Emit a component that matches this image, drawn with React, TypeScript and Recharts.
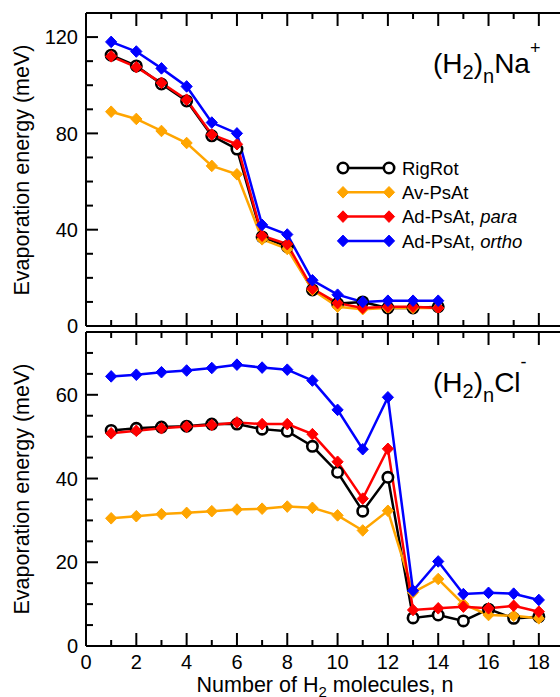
import React from 'react'
import { Legend, Line, LineChart, XAxis, YAxis } from 'recharts'

const FONT = '"Liberation Sans", Arial, Helvetica, sans-serif'

// (H2)n Na+ panel
const nNa = [1, 2, 3, 4, 5, 6, 7, 8, 9, 10, 11, 12, 13, 14]
const rigRotNa = [112.5, 108, 100.5, 93.5, 79, 73.5, 37, 33, 15, 9.3, 10, 7.5, 7.5, 8]
const avNa = [89, 86, 81, 76, 66.5, 63, 36, 32, 15, 8, 7, 7.5, 7.5, 7.5]
const paraNa = [112, 107.5, 101, 94, 79.5, 75.5, 37.5, 34, 15.5, 9.5, 7.5, 8, 8, 7.5]
const orthoNa = [118, 114, 107, 99.5, 84.5, 80, 42, 38, 19, 13, 10, 10.5, 10.5, 10.5]

// (H2)n Cl- panel
const nCl = [1, 2, 3, 4, 5, 6, 7, 8, 9, 10, 11, 12, 13, 14, 15, 16, 17, 18]
const rigRotCl = [51.5, 52, 52.3, 52.5, 53, 53, 51.8, 51.3, 47.7, 41.5, 32.2, 40.3, 6.7, 7.4, 6, 8.8, 6.6, 7]
const avCl = [30.5, 31, 31.5, 31.8, 32.2, 32.6, 32.8, 33.3, 33, 31.2, 27.6, 32.3, 12.8, 16, 10, 7.4, 7.2, 6.6]
const paraCl = [50.8, 51.4, 52, 52.4, 52.8, 53.4, 53, 53, 50.6, 44, 35.2, 47.1, 8.6, 9, 9.4, 9, 9.6, 8.2]
const orthoCl = [64.4, 64.8, 65.4, 65.8, 66.4, 67.2, 66.5, 66, 63.4, 56.4, 47, 59.4, 13.2, 20.2, 12.4, 12.7, 12.5, 11]

// ticks
const xTicks = [1, 2, 3, 4, 5, 6, 7, 8, 9, 10, 11, 12, 13, 14, 15, 16, 17, 18]
const xLabels = [0, 2, 4, 6, 8, 10, 12, 14, 16, 18]
const yTicksNa = [0, 10, 20, 30, 40, 50, 60, 70, 80, 90, 100, 110, 120]
const yMajorNa = [0, 40, 80, 120]
const yTicksCl = [0, 5, 10, 15, 20, 25, 30, 35, 40, 45, 50, 55, 60, 65, 70]
const yMajorCl = [0, 20, 40, 60]

const SERIES = [
    { key: 'rigRot', name: 'RigRot', color: '#000000', marker: 'circle' },
    { key: 'av', name: 'Av-PsAt', color: '#ffa500', marker: 'diamond' },
    { key: 'para', name: 'Ad-PsAt, para', color: '#ff0000', marker: 'diamond' },
    { key: 'ortho', name: 'Ad-PsAt, ortho', color: '#0000ff', marker: 'diamond' },
]

const naData = nNa.map((n, i) => ({
    n,
    rigRot: rigRotNa[i],
    av: avNa[i],
    para: paraNa[i],
    ortho: orthoNa[i],
}))

const clData = nCl.map((n, i) => ({
    n,
    rigRot: rigRotCl[i],
    av: avCl[i],
    para: paraCl[i],
    ortho: orthoCl[i],
}))

function diamondPath(cx: number, cy: number) {
    return `M${cx},${cy - 5.8}L${cx + 5.6},${cy}L${cx},${cy + 5.8}L${cx - 5.6},${cy}Z`
}

function Marker({ cx, cy, marker, color }: any) {
    if (marker === 'circle') {
        return <circle cx={cx} cy={cy} r={5.2} fill="#fff" stroke="#000" strokeWidth={2.6} />
    }
    return <path d={diamondPath(cx, cy)} fill={color} stroke={color} strokeWidth={1} />
}

function XTick({ x, y, payload, side, labels }: any) {
    const v = payload.value
    const len = v % 2 === 0 ? 13 : 6
    const dir = side === 'bottom' ? -1 : 1
    return (
        <g>
            <line x1={x} y1={y} x2={x} y2={y + dir * len} stroke="#000" strokeWidth={2} />
            {labels && labels.includes(v) && (
                <text x={x} y={y + 23} textAnchor="middle" fontSize={20} fontFamily={FONT} fill="#000">
                    {v}
                </text>
            )}
        </g>
    )
}

function YTick({ x, y, payload, side, majors, showLabels }: any) {
    const v = payload.value
    const major = majors.includes(v)
    const len = major ? 12 : 7
    const dir = side === 'left' ? 1 : -1
    return (
        <g>
            <line x1={x} y1={y} x2={x + dir * len} y2={y} stroke="#000" strokeWidth={2} />
            {showLabels && major && (
                <text x={x - 8} y={y} dy="0.36em" textAnchor="end" fontSize={20} fontFamily={FONT} fill="#000">
                    {v}
                </text>
            )}
        </g>
    )
}

function YTitle({ cy }: any) {
    return (
        <text
            x={22}
            y={cy}
            transform={`rotate(-90, 22, ${cy})`}
            textAnchor="middle"
            dominantBaseline="central"
            fontSize={21.5}
            fontFamily={FONT}
            fill="#000"
        >
            Evaporation energy (meV)
        </text>
    )
}

function XTitle() {
    return (
        <text x={325} y={362} textAnchor="middle" fontSize={21.5} fontFamily={FONT} fill="#000">
            Number of H<tspan fontSize={15} dy={5}>2</tspan>
            <tspan dy={-5}> molecules, n</tspan>
        </text>
    )
}

function PanelLabel({ baseline, ion, charge }: any) {
    const up = charge === '+' ? -19 : -24
    return (
        <text x={433} y={baseline} fontSize={28} fontFamily={FONT} fill="#000">
            (H<tspan fontSize={20} dy={6}>2</tspan>
            <tspan dy={-6}>)</tspan>
            <tspan fontSize={20} dy={10}>n</tspan>
            <tspan dy={-10}>{ion}</tspan>
            <tspan fontSize={18} dy={up}>{charge}</tspan>
        </text>
    )
}

function renderLegend(props: any) {
    const payload = [...(props.payload || [])].sort(
        (a: any, b: any) =>
            SERIES.findIndex((s) => s.key === a.dataKey) - SERIES.findIndex((s) => s.key === b.dataKey),
    )
    return (
        <svg width={224} height={100} style={{ display: 'block' }}>
            {payload.map((item: any, i: number) => {
                const s = SERIES.find((d) => d.key === item.dataKey) || SERIES[i]
                const cy = 13 + i * 24.3
                const parts = s.name.split(', ')
                return (
                    <g key={s.key}>
                        <line x1={7} x2={53} y1={cy} y2={cy} stroke={s.color} strokeWidth={2.5} />
                        <Marker cx={7} cy={cy} marker={s.marker} color={s.color} />
                        <Marker cx={53} cy={cy} marker={s.marker} color={s.color} />
                        <text x={66} y={cy} dy="0.36em" fontSize={18.5} fontFamily={FONT} fill="#000">
                            {parts[0]}
                            {parts[1] && (
                                <>
                                    {', '}
                                    <tspan fontStyle="italic">{parts[1]}</tspan>
                                </>
                            )}
                        </text>
                    </g>
                )
            })}
        </svg>
    )
}

function seriesLines() {
    return SERIES.map((s) => (
        <Line
            key={s.key}
            xAxisId="bottom"
            yAxisId="left"
            type="linear"
            dataKey={s.key}
            name={s.name}
            stroke={s.color}
            strokeWidth={2.5}
            dot={(p: any) => <Marker key={`${s.key}-${p.index}`} cx={p.cx} cy={p.cy} marker={s.marker} color={s.color} />}
            activeDot={false}
            isAnimationActive={false}
        />
    ))
}

const axisLine = { stroke: '#000', strokeWidth: 2 }

export default function App() {
    return (
        <div
            style={{
                position: 'absolute',
                left: 0,
                top: 0,
                width: 560,
                height: 697,
                overflow: 'hidden',
                background: '#fff',
                fontFamily: FONT,
            }}
        >
            <style>{'.recharts-surface { overflow: visible; }'}</style>
            <div style={{ position: 'absolute', left: 0, top: 330 }}>
                <LineChart width={570} height={367} data={clData} margin={{ top: 0, right: 0, bottom: 0, left: 0 }}>
                    <XAxis
                        xAxisId="bottom"
                        dataKey="n"
                        type="number"
                        domain={[0, 19]}
                        ticks={[0, ...xTicks]}
                        interval={0}
                        height={51}
                        tickSize={0}
                        tickMargin={0}
                        axisLine={axisLine}
                        tickLine={false}
                        tick={<XTick side="bottom" labels={xLabels} />}
                        label={<XTitle />}
                    />
                    <XAxis
                        xAxisId="top"
                        orientation="top"
                        dataKey="n"
                        type="number"
                        domain={[0, 19]}
                        ticks={xTicks}
                        interval={0}
                        height={2}
                        tickSize={0}
                        tickMargin={0}
                        axisLine={axisLine}
                        tickLine={false}
                        tick={<XTick side="top" />}
                    />
                    <YAxis
                        yAxisId="left"
                        type="number"
                        domain={[0, 75]}
                        ticks={yTicksCl}
                        interval={0}
                        width={86}
                        tickSize={0}
                        tickMargin={0}
                        axisLine={axisLine}
                        tickLine={false}
                        tick={<YTick side="left" majors={yMajorCl} showLabels />}
                        label={<YTitle cy={159} />}
                    />
                    <YAxis
                        yAxisId="right"
                        orientation="right"
                        type="number"
                        domain={[0, 75]}
                        ticks={yTicksCl}
                        interval={0}
                        width={6}
                        tickSize={0}
                        tickMargin={0}
                        axisLine={axisLine}
                        tickLine={false}
                        tick={<YTick side="right" majors={yMajorCl} />}
                        label={<PanelLabel baseline={62} ion="Cl" charge="-" />}
                    />
                    {seriesLines()}
                </LineChart>
            </div>
            <div style={{ position: 'absolute', left: 0, top: 0 }}>
                <LineChart width={570} height={330} data={naData} margin={{ top: 0, right: 0, bottom: 0, left: 0 }}>
                    <XAxis
                        xAxisId="bottom"
                        dataKey="n"
                        type="number"
                        domain={[0, 19]}
                        ticks={xTicks}
                        interval={0}
                        height={4}
                        tickSize={0}
                        tickMargin={0}
                        axisLine={axisLine}
                        tickLine={false}
                        tick={<XTick side="bottom" />}
                    />
                    <XAxis
                        xAxisId="top"
                        orientation="top"
                        dataKey="n"
                        type="number"
                        domain={[0, 19]}
                        ticks={xTicks}
                        interval={0}
                        height={13}
                        tickSize={0}
                        tickMargin={0}
                        axisLine={axisLine}
                        tickLine={false}
                        tick={<XTick side="top" />}
                    />
                    <YAxis
                        yAxisId="left"
                        type="number"
                        domain={[0, 130]}
                        ticks={yTicksNa}
                        interval={0}
                        width={86}
                        tickSize={0}
                        tickMargin={0}
                        axisLine={axisLine}
                        tickLine={false}
                        tick={<YTick side="left" majors={yMajorNa} showLabels />}
                        label={<YTitle cy={170} />}
                    />
                    <YAxis
                        yAxisId="right"
                        orientation="right"
                        type="number"
                        domain={[0, 130]}
                        ticks={yTicksNa}
                        interval={0}
                        width={6}
                        tickSize={0}
                        tickMargin={0}
                        axisLine={axisLine}
                        tickLine={false}
                        tick={<YTick side="right" majors={yMajorNa} />}
                        label={<PanelLabel baseline={73} ion="Na" charge="+" />}
                    />
                    {seriesLines()}
                    <Legend
                        layout="vertical"
                        align="center"
                        verticalAlign="middle"
                        wrapperStyle={{ left: 336, top: 155, width: 224, height: 100 }}
                        content={renderLegend}
                    />
                </LineChart>
            </div>
        </div>
    )
}
